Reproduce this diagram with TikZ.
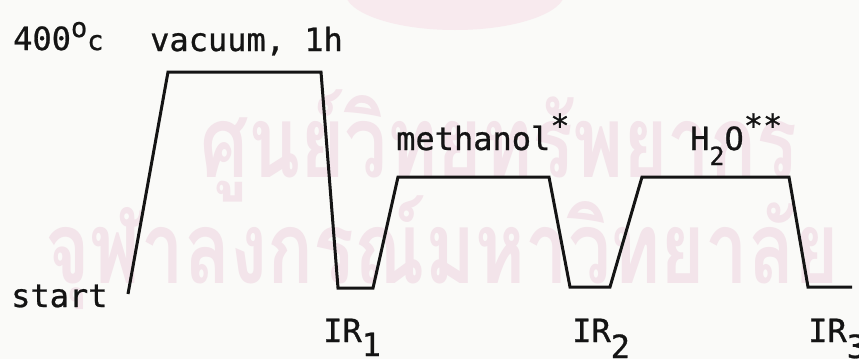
\documentclass[tikz,border=0pt]{standalone}
\usepackage{fontspec}
\newfontfamily\tw[FakeBold=0.8]{DejaVu Sans Mono}
\newfontfamily\thaifont[Script=Thai]{Loma}
\definecolor{paper}{RGB}{250,250,248}
\definecolor{wm}{RGB}{243,228,234}
\definecolor{seal}{RGB}{248,234,238}
\definecolor{ink}{RGB}{20,20,20}
\begin{document}
\begin{tikzpicture}[x=1pt,y=-1pt,
  lbl/.style={inner sep=0pt, anchor=base west, text=ink, font=\tw\fontsize{32}{32}\selectfont},
  wmark/.style={inner sep=0pt, anchor=base west, text=wm, font=\thaifont\bfseries\fontsize{100}{100}\selectfont},
  curve/.style={draw=ink, line width=3pt, line join=miter}]
\useasboundingbox (0,0) rectangle (859,359);
\fill[paper] (0,0) rectangle (859,359);
% faint library stamp and watermark of the scan
\fill[seal] (455,-8) ellipse [x radius=110pt, y radius=38pt];
\node[wmark] (wm1) at (200,177) {\scalebox{0.76}[1]{ศูนย์วิทยทรัพยากร}};
\node[wmark] (wm2) at (45,283) {\scalebox{0.76}[1]{จุฬาลงกรณ์มหาวิทยาลัย}};
% the treatment profile
\coordinate (p0) at (128,294);
\coordinate (p1) at (168,72);
\coordinate (p2) at (321,72);
\coordinate (p3) at (338,288);
\coordinate (p4) at (373,288);
\coordinate (p5) at (398,177);
\coordinate (p6) at (549,177);
\coordinate (p7) at (570,287);
\coordinate (p8) at (610,287);
\coordinate (p9) at (642,177);
\coordinate (p10) at (789,177);
\coordinate (p11) at (808,287);
\coordinate (p12) at (852,287);
\draw[curve] (p0) -- (p1) -- (p2) -- (p3) -- (p4) -- (p5) -- (p6) -- (p7) -- (p8) -- (p9) -- (p10) -- (p11) -- (p12);
% labels
\node[lbl] (temp) at (13,50) {400\raisebox{13pt}{\fontsize{27}{27}\selectfont o}{\fontsize{27}{27}\selectfont c}};
\node[lbl] (vac) at (150,51) {vacuum, 1h};
\node[lbl] (meth) at (396,150) {methanol\raisebox{13pt}{*}};
\node[lbl] (water) at (690,150) {H\raisebox{-15pt}{\fontsize{25}{25}\selectfont 2}O\raisebox{13pt}{**}};
\node[lbl] (start) at (11,307) {start};
\node[lbl] (ir1) at (323,342) {IR\raisebox{-14pt}{1}};
\node[lbl] (ir2) at (572,342) {IR\raisebox{-16pt}{2}};
\node[lbl] (ir3) at (808,342) {IR\raisebox{-16pt}{3}};
\end{tikzpicture}
\end{document}
